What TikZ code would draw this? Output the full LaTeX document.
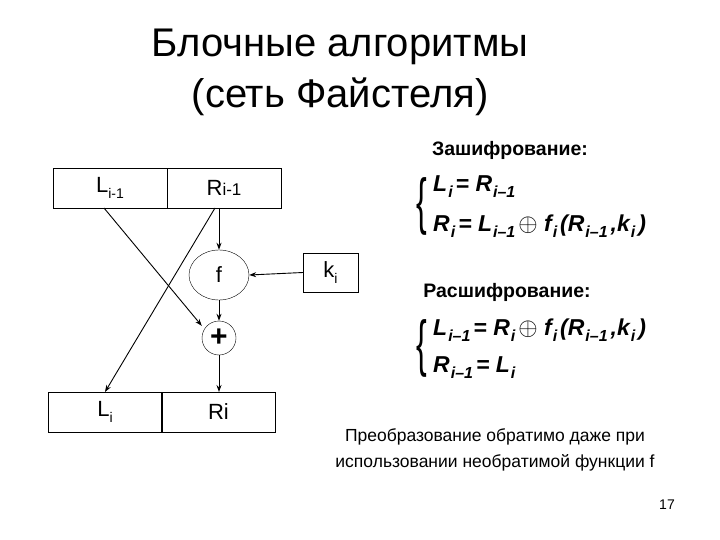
\documentclass[tikz,border=0pt]{standalone}
\usepackage{fontspec}
\setmainfont{Liberation Sans}
\usetikzlibrary{arrows.meta,shapes.geometric}
\newcommand{\sbs}[1]{\raisebox{-0.5ex}{\fontsize{14}{15}\selectfont #1}}
\newcommand{\sbb}[1]{\raisebox{-0.5ex}{\fontsize{16}{16}\selectfont\hspace{1pt}#1\hspace{3pt}}}
\newcommand{\xo}{{\upshape\mdseries\fontsize{24}{24}\selectfont$\oplus$}}
\begin{document}
\begin{tikzpicture}[x=1pt,y=-1pt,
  box/.style={draw,minimum width=114pt,minimum height=40pt,inner sep=0pt,font=\fontsize{22}{24}\selectfont},
  arr/.style={-{Stealth[length=7pt,width=5pt]},line width=0.9pt},
  brc/.style={inner sep=0pt,font=\fontsize{40}{40}\selectfont,xscale=0.8,yscale=1.55},
  fm/.style={font=\fontsize{23}{24}\selectfont\bfseries\itshape,anchor=west,inner sep=0pt}]
\useasboundingbox (0,0) rectangle (720,540);
\node[font=\fontsize{40}{44}\selectfont] (t1) at (340,47) {Блочные алгоритмы};
\node[font=\fontsize{40}{44}\selectfont] (t2) at (340,97) {(сеть Файстеля)};
\node[box] (l0) at (110,188) {L\sbs{i-1}};
\node[box] (r0) at (224,188) {R\fontsize{17}{18}\selectfont i-1};
\node[box,minimum width=113pt] (l1) at (105,412) {L\sbs{i}};
\node[box,minimum width=113pt] (r1) at (218.5,412) {Ri};
\node[draw,ellipse,minimum width=60pt,minimum height=50pt,inner sep=0pt,font=\fontsize{22}{24}\selectfont] (f) at (219,275) {f};
\node[draw,minimum width=55pt,minimum height=39pt,font=\fontsize{22}{24}\selectfont] (k) at (330.5,272.5) {k\sbs{i}};
\node[draw,circle,minimum size=34pt,inner sep=0pt,font=\fontsize{30}{30}\selectfont\bfseries] (p) at (219,338) {+};
\coordinate (a1) at (104,208);
\coordinate (a2) at (215,208);
\coordinate (a3) at (219,208);
\coordinate (b1) at (105,392);
\coordinate (b2) at (219,392);
\draw[arr] (a1) -- (p.west|-p.north west) ;
\draw[arr] (a2) -- (b1);
\draw[arr] (a3) -- (f.north);
\draw[arr] (f.south) -- (p.north);
\draw[arr] (p.south) -- (b2);
\draw[arr] (k.west) -- (f.east);
\node[font=\fontsize{19.5}{20}\selectfont\bfseries] (e1) at (510,150) {Зашифрование:};
\node[font=\fontsize{19.5}{20}\selectfont\bfseries] (e2) at (507,292) {Расшифрование:};
\node[brc] (br1) at (422,206) {\{};
\node[brc] (br2) at (422,348) {\{};
\node[fm] (f1) at (433,187) {L\sbb{i}= R\sbb{i–1}};
\node[fm] (f2) at (433,226) {R\sbb{i}= L\sbb{i–1}\xo\ f\sbb{i}(R\sbb{i–1},k\sbb{i})};
\node[fm] (f3) at (433,330) {L\sbb{i–1}= R\sbb{i}\xo\ f\sbb{i}(R\sbb{i–1},k\sbb{i})};
\node[fm] (f4) at (433,368) {R\sbb{i–1}= L\sbb{i}};
\node[font=\fontsize{17.5}{26}\selectfont,align=center] (txt) at (495,450) {Преобразование обратимо даже при\\использовании необратимой функции f};
\node[font=\fontsize{14}{15}\selectfont] (pg) at (667,505) {17};
\end{tikzpicture}
\end{document}
